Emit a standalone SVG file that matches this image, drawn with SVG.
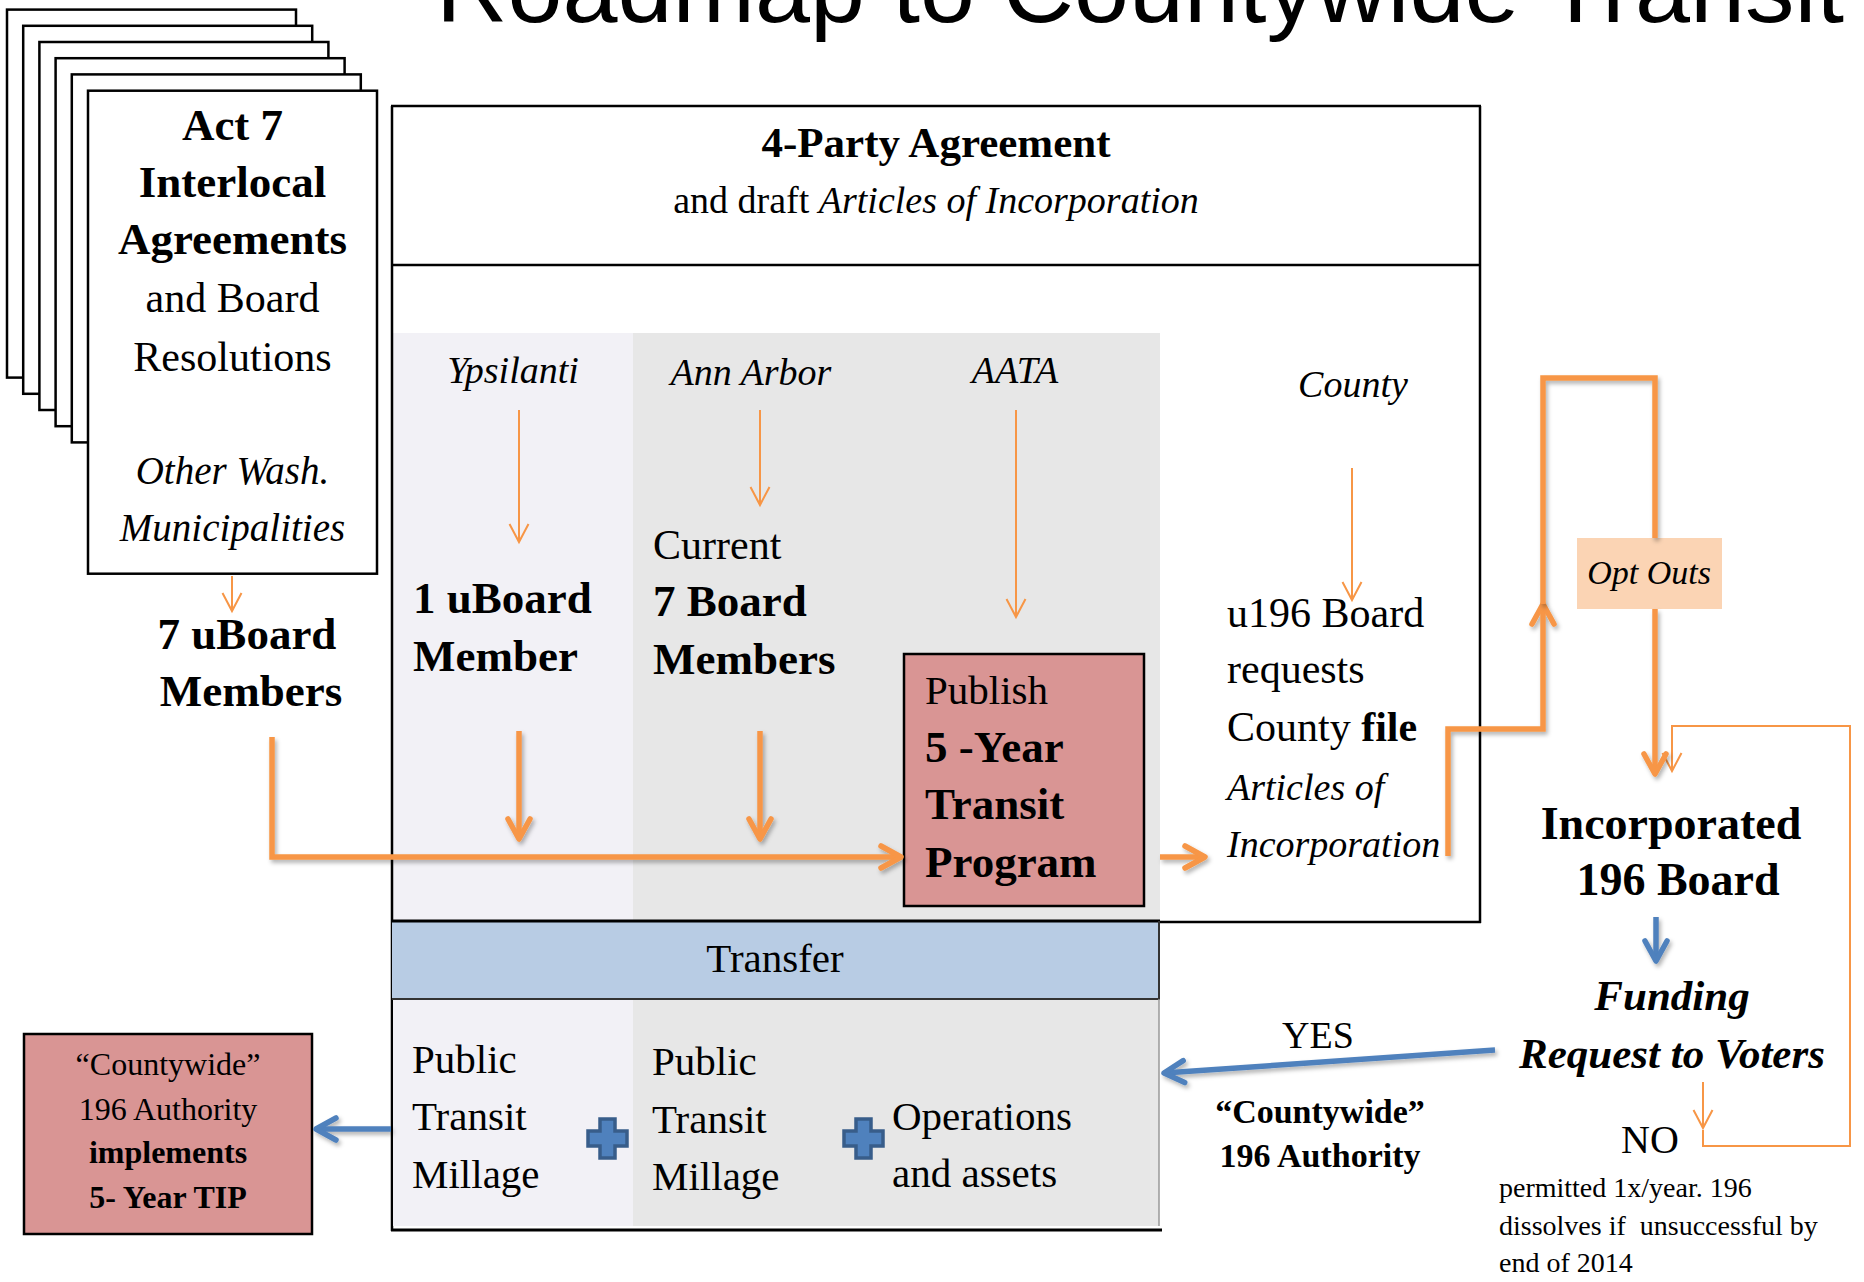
<svg xmlns="http://www.w3.org/2000/svg" width="1864" height="1282" viewBox="0 0 1864 1282">
<style>
.t{font-family:"Liberation Serif","Times New Roman",serif;fill:#000}
.b{font-weight:bold}
.i{font-style:italic}
.c{text-anchor:middle}
.s38{font-size:38px}
.s41{font-size:41px}
.s42{font-size:42px}
.s45{font-size:45px}
.page{fill:#fff;stroke:#000;stroke-width:2.5}
.frame{stroke:#000;stroke-width:2.5;fill:none}
.thin{fill:none;stroke:#F79646;stroke-width:2}
.thick{fill:none;stroke:#F79646;stroke-width:5.5;filter:url(#shadow)}
.blue{fill:none;stroke:#4F81BD;stroke-width:5.5;filter:url(#shadow)}
.redbox{fill:#D99594;stroke:#000;stroke-width:2.5}
.plus{fill:#4F81BD;stroke:#385D8A;stroke-width:3.5}
</style>
<defs>
<filter id="shadow" filterUnits="userSpaceOnUse" x="0" y="0" width="1864" height="1282">
<feDropShadow dx="2" dy="3" stdDeviation="2" flood-color="#000" flood-opacity="0.3"/>
</filter>
<marker id="mThin" markerUnits="userSpaceOnUse" viewBox="-22 -12 24 24" refX="0" refY="0" markerWidth="24" markerHeight="24" orient="auto" overflow="visible">
<path d="M-18,-9.5 L0,0 L-18,9.5" fill="none" stroke="#F79646" stroke-width="2"/>
</marker>
<marker id="mThick" markerUnits="userSpaceOnUse" viewBox="-26 -15 30 30" refX="0" refY="0" markerWidth="30" markerHeight="30" orient="auto" overflow="visible">
<path d="M-20,-11 L0,0 L-20,11" fill="none" stroke="#F79646" stroke-width="5.5" stroke-linecap="round" stroke-linejoin="round"/>
</marker>
<marker id="mBlue" markerUnits="userSpaceOnUse" viewBox="-26 -15 30 30" refX="0" refY="0" markerWidth="30" markerHeight="30" orient="auto" overflow="visible">
<path d="M-20,-11 L0,0 L-20,11" fill="none" stroke="#4F81BD" stroke-width="5.5" stroke-linecap="round" stroke-linejoin="round"/>
</marker>
</defs>
<rect width="1864" height="1282" fill="#fff"/>

<g id="title">
<text x="436" y="22" font-family="Liberation Sans, Arial, sans-serif" font-size="96" textLength="1408" lengthAdjust="spacingAndGlyphs">Roadmap to Countywide Transit</text>
</g>

<g id="act7-agreements">
<rect class="page" x="7" y="9.6" width="289" height="368"/>
<rect class="page" x="23.2" y="25.8" width="289" height="368"/>
<rect class="page" x="39.4" y="42" width="289" height="368"/>
<rect class="page" x="55.6" y="58.2" width="289" height="368"/>
<rect class="page" x="71.8" y="74.4" width="289" height="368"/>
<rect class="page" x="88" y="90.7" width="289" height="483"/>
<text class="t b c s45" x="232.5" y="140">Act 7</text>
<text class="t b c s45" x="232.5" y="197">Interlocal</text>
<text class="t b c s45" x="232.5" y="254">Agreements</text>
<text class="t c s42" x="232.5" y="312">and Board</text>
<text class="t c s42" x="232.5" y="371">Resolutions</text>
<text class="t i c" font-size="39" x="232.5" y="484">Other Wash.</text>
<text class="t i c" font-size="39" x="232.5" y="541">Municipalities</text>
</g>

<g id="seven-uboard-members">
<text class="t b c s45" x="247" y="649">7 uBoard</text>
<text class="t b c s45" x="251" y="706">Members</text>
</g>

<g id="four-party-agreement">
<rect x="392" y="333" width="241" height="588" fill="#F2F1F6"/>
<rect x="633" y="333" width="527" height="588" fill="#E7E7E7"/>
<line class="frame" x1="391" y1="106" x2="1481" y2="106"/>
<line class="frame" x1="392" y1="106" x2="392" y2="1231"/>
<line class="frame" x1="1480" y1="106" x2="1480" y2="923"/>
<line class="frame" x1="392" y1="265" x2="1480" y2="265"/>
<line class="frame" x1="1159" y1="922" x2="1481" y2="922"/>
<text class="t b c" font-size="43" x="936" y="157">4-Party Agreement</text>
<text class="t c s38" x="936" y="213">and draft <tspan class="i">Articles of Incorporation</tspan></text>
</g>

<g id="ypsilanti">
<text class="t i c s38" x="513" y="383">Ypsilanti</text>
</g>
<g id="ann-arbor">
<text class="t i c s38" x="751" y="385">Ann Arbor</text>
</g>
<g id="aata">
<text class="t i c s38" x="1015" y="383">AATA</text>
</g>
<g id="county">
<text class="t i c s38" x="1353" y="397">County</text>
</g>

<g id="one-uboard-member">
<text class="t b s45" x="413" y="613">1 uBoard</text>
<text class="t b s45" x="413" y="671">Member</text>
</g>

<g id="current-seven-board">
<text class="t s42" x="653" y="559">Current</text>
<text class="t b s45" x="653" y="616">7 Board</text>
<text class="t b s45" x="653" y="674">Members</text>
</g>

<g id="publish-5yr-tip">
<rect class="redbox" x="904" y="654" width="240" height="252"/>
<text class="t s41" x="925" y="704">Publish</text>
<text class="t b s45" x="925" y="762">5 -Year</text>
<text class="t b s45" x="925" y="819">Transit</text>
<text class="t b s45" x="925" y="877">Program</text>
</g>

<g id="u196-board-requests">
<text class="t s42" x="1227" y="627">u196 Board</text>
<text class="t s42" x="1227" y="683">requests</text>
<text class="t s42" x="1227" y="741">County <tspan class="b">file</tspan></text>
<text class="t i s38" x="1227" y="800">Articles of</text>
<text class="t i s38" x="1227" y="857">Incorporation</text>
</g>

<g id="transfer">
<rect x="392" y="921" width="767" height="78" fill="#B8CCE4"/>
<line x1="391" y1="921" x2="1160" y2="921" stroke="#000" stroke-width="3"/>
<line x1="392" y1="999" x2="1160" y2="999" stroke="#333" stroke-width="2"/>
<line x1="1159" y1="921" x2="1159" y2="999" stroke="#333" stroke-width="2"/>
<text class="t c s41" x="775" y="972">Transfer</text>
</g>

<g id="millage-assets">
<rect x="393" y="1000" width="240" height="226" fill="#F2F1F6"/>
<rect x="633" y="1000" width="526" height="226" fill="#E7E7E7"/>
<line x1="1159" y1="999" x2="1159" y2="1226" stroke="#999" stroke-width="1.5"/>
<line x1="391" y1="1230" x2="1162" y2="1230" stroke="#000" stroke-width="3"/>
<text class="t s41" x="412" y="1073">Public</text>
<text class="t s41" x="412" y="1130">Transit</text>
<text class="t s41" x="412" y="1188">Millage</text>
<text class="t s41" x="652" y="1075">Public</text>
<text class="t s41" x="652" y="1133">Transit</text>
<text class="t s41" x="652" y="1190">Millage</text>
<path class="plus" d="M600,1119 h15 v12 h12 v15 h-12 v12 h-15 v-12 h-12 v-15 h12 z"/>
<path class="plus" d="M856,1119 h15 v12 h12 v15 h-12 v12 h-15 v-12 h-12 v-15 h12 z"/>
<text class="t s41" x="892" y="1130">Operations</text>
<text class="t s41" x="892" y="1187">and assets</text>
</g>

<g id="countywide-authority-implements">
<rect class="redbox" x="24" y="1034" width="288" height="200"/>
<text class="t c" font-size="32" x="168" y="1075">“Countywide”</text>
<text class="t c" font-size="32" x="168" y="1120">196 Authority</text>
<text class="t b c" font-size="32" x="168" y="1163">implements</text>
<text class="t b c" font-size="32" x="168" y="1208">5- Year TIP</text>
</g>

<g id="opt-outs">
<rect x="1577" y="538" width="145" height="71" fill="#FBD4B4"/>
<text class="t i c" font-size="34" x="1649" y="584">Opt Outs</text>
</g>

<g id="incorporated-196-board">
<text class="t b c" font-size="46" x="1671" y="839">Incorporated</text>
<text class="t b c" font-size="46" x="1678" y="895">196 Board</text>
</g>

<g id="funding-request">
<text class="t b i c" font-size="43" x="1672" y="1010">Funding</text>
<text class="t b i c" font-size="43" x="1672" y="1068">Request to Voters</text>
</g>

<g id="no">
<text class="t c" font-size="40" x="1650" y="1153">NO</text>
<text class="t" font-size="28" x="1499" y="1197">permitted 1x/year. 196</text>
<text class="t" font-size="28" x="1499" y="1235" xml:space="preserve">dissolves if  unsuccessful by</text>
<text class="t" font-size="28" x="1499" y="1272">end of 2014</text>
</g>

<g id="countywide-authority">
<text class="t c" font-size="38" x="1318" y="1048">YES</text>
<text class="t b c" font-size="34" x="1320" y="1123">“Countywide”</text>
<text class="t b c" font-size="34" x="1320" y="1167">196 Authority</text>
</g>

<g id="connectors">
<path class="thin" d="M232,576 V611" marker-end="url(#mThin)"/>
<path class="thin" d="M519,410 V542" marker-end="url(#mThin)"/>
<path class="thin" d="M760,410 V505" marker-end="url(#mThin)"/>
<path class="thin" d="M1016,410 V617" marker-end="url(#mThin)"/>
<path class="thin" d="M1352,468 V600" marker-end="url(#mThin)"/>
<path class="thin" d="M1703,1082 V1128" marker-end="url(#mThin)"/>
<path class="thin" d="M1703,1130 V1146 H1850 V726 H1672 V771" marker-end="url(#mThin)"/>
<path class="thick" d="M519,731 V839" marker-end="url(#mThick)"/>
<path class="thick" d="M760,731 V839" marker-end="url(#mThick)"/>
<path class="thick" d="M272,737 V857 H901" marker-end="url(#mThick)"/>
<path class="thick" d="M1160,857 H1205" marker-end="url(#mThick)"/>
<path class="thick" d="M1448,856 V729 H1543 V604" marker-end="url(#mThick)"/>
<path class="thick" d="M1543,604 V378 H1655 V538"/>
<path class="thick" d="M1655,609 V774" marker-end="url(#mThick)"/>
<path class="blue" d="M1656,917 V961" marker-end="url(#mBlue)"/>
<path class="blue" d="M1495,1050 L1164,1073" marker-end="url(#mBlue)"/>
<path class="blue" d="M391,1129 H316" marker-end="url(#mBlue)"/>
</g>
</svg>
